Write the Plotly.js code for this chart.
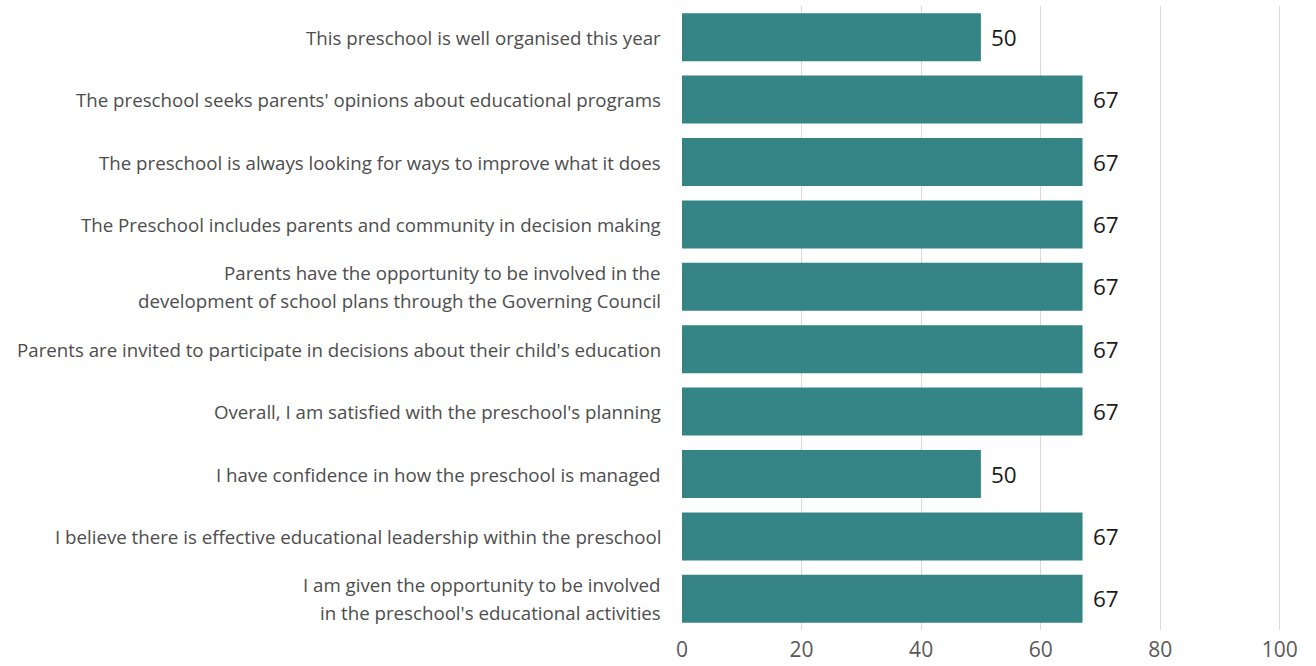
<!DOCTYPE html>
<html>
<head>
<meta charset="utf-8">
<script src="https://cdn.plot.ly/plotly-3.0.1.min.js"></script>
<style>html,body{margin:0;padding:0;background:#fff;}#chart{width:1316px;height:666px;}</style>
</head>
<body>
<div id="chart"></div>
<script>
var categories = [
  "This preschool is well organised this year",
  "The preschool seeks parents' opinions about educational programs",
  "The preschool is always looking for ways to improve what it does",
  "The Preschool includes parents and community in decision making",
  "Parents have the opportunity to be involved in the\ndevelopment of school plans through the Governing Council",
  "Parents are invited to participate in decisions about their child's education",
  "Overall, I am satisfied with the preschool's planning",
  "I have confidence in how the preschool is managed",
  "I believe there is effective educational leadership within the preschool",
  "I am given the opportunity to be involved\nin the preschool's educational activities"
];
var values = [50, 67, 67, 67, 67, 67, 67, 50, 67, 67];
var xTicks = [0, 20, 40, 60, 80, 100];

var catKeys = categories.map(function(c){ return c.replace("\n", " "); });

var trace = {
  type: 'bar',
  orientation: 'h',
  x: values,
  y: catKeys,
  marker: {color: '#358587'},
  hoverinfo: 'x+y'
};

var annotations = [];
categories.forEach(function(c, i){
  var lines = c.split("\n");
  var n = lines.length;
  lines.forEach(function(line, j){
    annotations.push({
      xref: 'paper', yref: 'y', x: 0, y: catKeys[i],
      xanchor: 'right', yanchor: 'middle', xshift: -19,
      yshift: ((n - 1) / 2 - j) * 28,
      text: line, showarrow: false,
      font: {family: 'Open Sans, sans-serif', size: 18.7, color: '#4d4d4d'}
    });
  });
  annotations.push({
    xref: 'x', yref: 'y', x: values[i], y: catKeys[i],
    xanchor: 'left', yanchor: 'middle', xshift: 8,
    text: String(values[i]), showarrow: false,
    font: {family: 'Open Sans, sans-serif', size: 22.5, color: '#1a1a1a'}
  });
});

var layout = {
  width: 1316, height: 666,
  margin: {l: 682, r: 35, t: 6, b: 36, pad: 0},
  paper_bgcolor: '#ffffff', plot_bgcolor: '#ffffff',
  bargap: 0.23,
  showlegend: false,
  xaxis: {
    range: [0, 100.2], tickvals: xTicks, ticktext: xTicks.map(String),
    showgrid: true, gridcolor: '#d9d9d9', gridwidth: 1,
    zeroline: false, showline: false, ticks: '',
    ticklabelstandoff: 5,
    tickfont: {family: 'Open Sans, sans-serif', size: 21, color: '#595959'},
    fixedrange: true
  },
  yaxis: {
    autorange: 'reversed', type: 'category',
    showticklabels: false, showgrid: false, zeroline: false, showline: false, ticks: '',
    fixedrange: true
  },
  annotations: annotations
};

Plotly.newPlot('chart', [trace], layout, {displayModeBar: false, responsive: false});
</script>
</body>
</html>
